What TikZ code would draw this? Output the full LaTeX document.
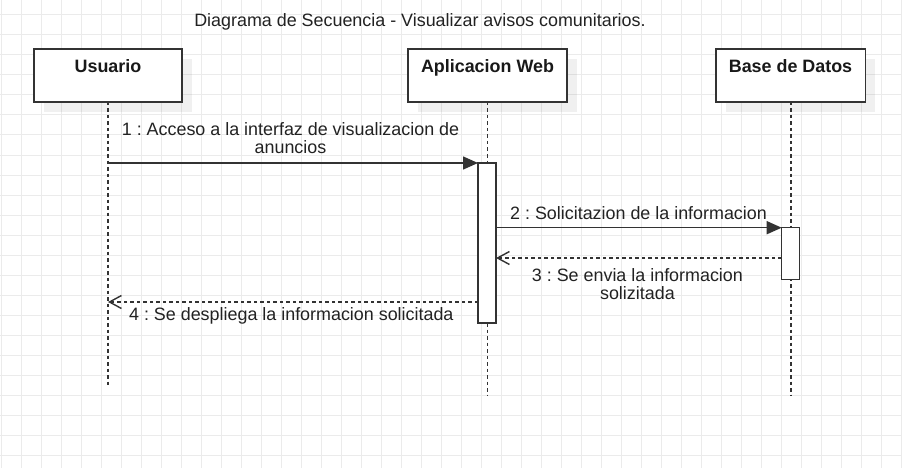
\documentclass[tikz,border=0pt]{standalone}
\usepackage{fontspec}
\setmainfont{Liberation Sans}
\usetikzlibrary{arrows.meta,calc}
\definecolor{gridc}{HTML}{EBEBEB}
\definecolor{ink}{HTML}{333333}
\definecolor{txt}{HTML}{222222}
\frenchspacing
\begin{document}
\begin{tikzpicture}[x=1pt,y=-1pt,
  every node/.style={font=\fontsize{17.9}{17.9}\selectfont, text=txt, inner sep=0pt, outer sep=0pt},
  headbox/.style={draw=ink, line width=1.5pt, fill=white, rectangle, minimum height=53pt},
  shadowbox/.style={fill=black, fill opacity=0.06, draw=none},
  headtxt/.style={anchor=base, font=\fontsize{17.9}{17.9}\selectfont\bfseries, text=black!90},
  actbox/.style={draw=ink, line width=1.5pt, fill=white, rectangle, minimum width=18pt},
  lifeline/.style={draw=ink, line width=1.5pt, dash pattern=on 3.5pt off 3pt},
  syncmsg/.style={draw=ink, line width=1.5pt, -{Triangle[length=15pt,width=13pt]}},
  replymsg/.style={draw=ink, line width=1.5pt, dash pattern=on 3.5pt off 3pt, -{Straight Barb[length=12pt,width=13pt,line width=1.4pt]}},
  lbl/.style={anchor=base}
]
\useasboundingbox (0,0) rectangle (902,468);
\fill[white] (0,0) rectangle (902,468);
% grid
\foreach \gx in {1.7,21.7,...,902}{\draw[gridc, line width=1pt] (\gx,0) -- (\gx,468);}
\foreach \gy in {15,35,...,468}{\draw[gridc, line width=1pt] (0,\gy) -- (902,\gy);}

% title
\node[lbl] (title) at (420,26.7) {Diagrama de Secuencia - Visualizar avisos comunitarios.};

% shadows
\fill[shadowbox] (44,59) rectangle (192,112);
\fill[shadowbox] (418,59) rectangle (577,112);
\fill[shadowbox] (726,59) rectangle (875,112);

% lifeline heads
\node[headbox, minimum width=148pt] (u) at (108,75.5) {};
\node[headbox, minimum width=159pt] (w) at (487.5,75.5) {};
\node[headbox, minimum width=149.5pt] (d) at (790.5,75.5) {};
\node[headtxt] (ut) at (108,72.3) {Usuario};
\node[headtxt] (wt) at (487.5,72.3) {Aplicacion Web};
\node[headtxt] (dt) at (790.5,72.3) {Base de Datos};

% lifeline ends
\coordinate (uend) at (108,388);
\coordinate (wend) at (487.5,396);
\coordinate (dend) at (791,396);
\draw[lifeline] (u.south) -- (uend);
\draw[lifeline] (w.south) -- (wend);
\draw[lifeline] (791,102) -- (dend);

% activation bars
\node[actbox, minimum height=160pt] (wa) at (487,243) {};
\node[actbox, minimum height=52pt] (da) at (790.7,253.7) {};

% messages
\coordinate (m3) at (0,258);
\coordinate (m4) at (0,302);
\draw[syncmsg] (u |- wa.north west) -- (wa.north west);
\draw[syncmsg] (wa.east |- da.north west) -- (da.north west);
\draw[replymsg] (da.west |- m3) -- (wa.east |- m3);
\draw[replymsg] (wa.west |- m4) -- (u |- m4);

% labels
\node[lbl] (l1a) at (290.5,135.7) {1 : Acceso a la interfaz de visualizacion de};
\node[lbl] (l1b) at (290.5,153.5) {anuncios};
\node[lbl] (l2) at (638.5,219) {2 : Solicitazion de la informacion};
\node[lbl] (l3a) at (637.4,281.7) {3 : Se envia la informacion};
\node[lbl] (l3b) at (637.4,299.3) {solizitada};
\node[lbl] (l4) at (291.3,320.7) {4 : Se despliega la informacion solicitada};
\end{tikzpicture}
\end{document}
